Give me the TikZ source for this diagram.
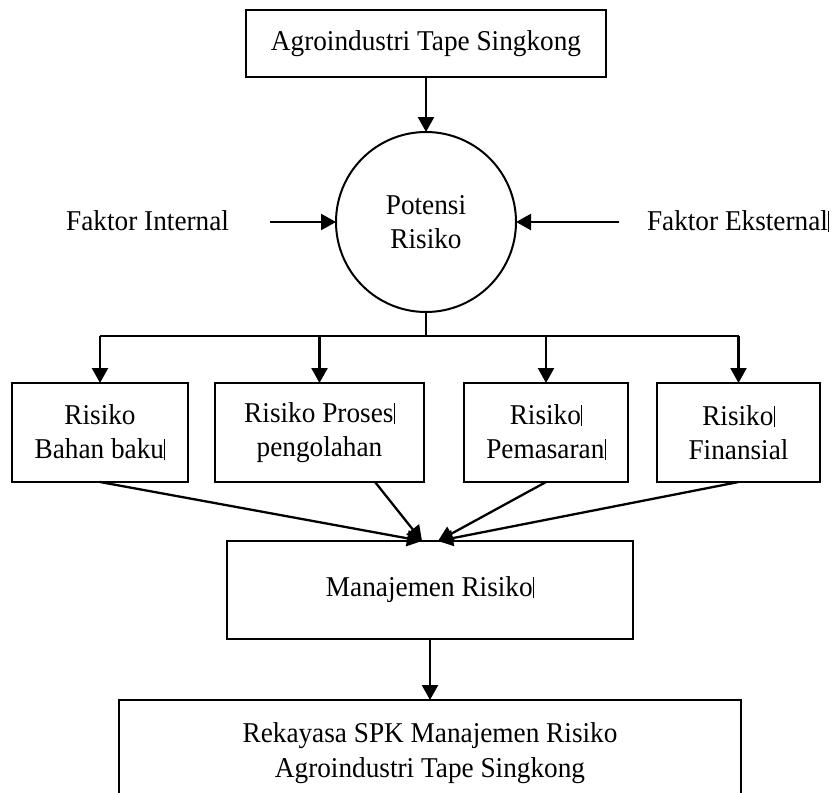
\documentclass[tikz,border=0pt]{standalone}
\usepackage{fontspec}
\setmainfont{Liberation Serif}[FakeStretch=0.95]
\usetikzlibrary{arrows.meta}
% thin text-cursor mark that trails some labels
\newcommand\cursorbar{\kern0.4pt\rule[-1.5pt]{0.9pt}{21pt}}

\begin{document}
\begin{tikzpicture}[x=1pt, y=-1pt,
  every node/.style={font=\fontsize{28.7}{34}\selectfont, inner sep=0pt, outer sep=0pt},
  box/.style={draw, line width=2.3pt, rectangle, align=center},
  flow/.style={line width=2.3pt, -{Triangle[length=15pt, width=16pt]}},
  plain/.style={line width=2.3pt}]
\useasboundingbox (0,0) rectangle (832,792);
\fill[white] (0,0) rectangle (832,792);
\clip (0,0) rectangle (832,792);

% source
\node[box, minimum width=360pt, minimum height=67pt] (top) at (426,43.5) {Agroindustri Tape Singkong};

% central risk circle
\node[draw, circle, line width=2pt, minimum size=180pt, align=center] (pr) at (426,222) {Potensi\\Risiko};

% side factors
\node[anchor=base east, outer xsep=41pt] (fi) at (270,230) {Faktor Internal};
\node[anchor=base west, outer xsep=28pt] (fe) at (619,230) {Faktor Eksternal\cursorbar};

% risk categories
\node[box, minimum width=176pt, minimum height=99pt] (b1) at (100,432.5) {Risiko\\Bahan baku\cursorbar};
\node[box, minimum width=209pt, minimum height=99pt] (b2) at (319.5,432.5) {Risiko Proses\cursorbar\\pengolahan};
\node[box, minimum width=164pt, minimum height=99pt] (b3) at (546,432.5) {Risiko\cursorbar\\Pemasaran\cursorbar};
\node[box, minimum width=163pt, minimum height=99pt] (b4) at (738.5,432.5) {Risiko\cursorbar\\Finansial};

% management
\node[box, minimum width=406pt, minimum height=98pt] (mr) at (430,590) {Manajemen Risiko\cursorbar};

% decision support system (box runs past the lower edge)
\node[draw, line width=2.3pt, rectangle, minimum width=622pt, minimum height=114pt] (spk) at (430,757) {};
\node[align=center, font=\fontsize{28.7}{35}\selectfont] (spktext) at (430,753) {Rekayasa SPK Manajemen Risiko\\Agroindustri Tape Singkong};

% connectors
\draw[flow] (top.south) -- (pr.north);
\draw[flow] (fi.east |- pr.west) -- (pr.west);
\draw[flow] (fe.west |- pr.east) -- (pr.east);

\coordinate (split) at (426,336);
\draw[plain] (pr.south) -- (split);
\draw[plain] (b1.north |- split) -- (b4.north |- split);
\draw[flow] (b1.north |- split) -- (b1.north);
\draw[flow] (b2.north |- split) -- (b2.north);
\draw[flow] (b3.north |- split) -- (b3.north);
\draw[flow] (b4.north |- split) -- (b4.north);

\draw[flow] (b1.south) -- ([xshift=-8pt]mr.north);
\draw[flow] ([xshift=55.5pt]b2.south) -- ([xshift=-8pt]mr.north);
\draw[flow] (b3.south) -- ([xshift=8pt]mr.north);
\draw[flow] (b4.south) -- ([xshift=8pt]mr.north);

\draw[flow] (mr.south) -- (spk.north);
\end{tikzpicture}
\end{document}
